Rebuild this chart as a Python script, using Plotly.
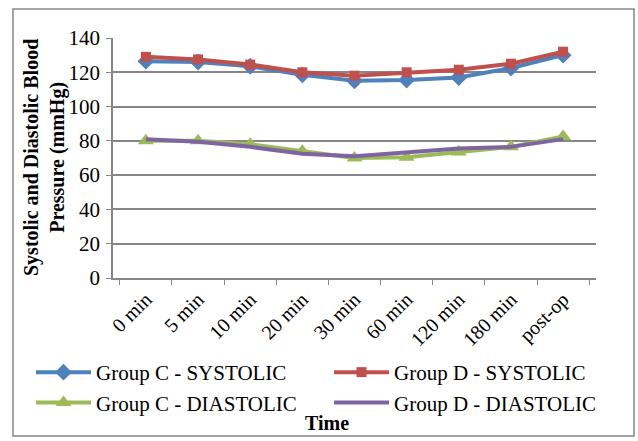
import plotly.graph_objects as go

# Time points and mean blood pressure values (mmHg)
times = ["0 min", "5 min", "10 min", "20 min", "30 min", "60 min", "120 min", "180 min", "post-op"]
c_systolic = [126.5, 126, 123.5, 118.5, 115, 115.5, 117, 122.5, 130]
d_systolic = [129, 127.5, 124.5, 120, 118, 120, 121.5, 125, 132]
c_diastolic = [80, 80, 78, 74, 70, 70.5, 73.5, 76.5, 82.5]
d_diastolic = [81, 79.5, 76.5, 72.5, 71, 73, 75.5, 76.5, 81]

y_ticks = [0, 20, 40, 60, 80, 100, 120, 140]

FONT = "Liberation Serif, Times New Roman, serif"

series = [
    ("Group C - SYSTOLIC", c_systolic, "#4F81BD", "diamond", 13),
    ("Group D - SYSTOLIC", d_systolic, "#C0504D", "square", 10),
    ("Group C - DIASTOLIC", c_diastolic, "#9BBB59", "triangle-up", 14),
    ("Group D - DIASTOLIC", d_diastolic, "#8064A2", "circle", 0.1),
]

fig = go.Figure()
for name, vals, color, symbol, msize in series:
    fig.add_trace(go.Scatter(
        x=times, y=vals, name=name, mode="lines+markers",
        line=dict(color=color, width=4),
        marker=dict(symbol=symbol, size=msize, color=color),
    ))

fig.update_layout(
    width=638, height=441,
    margin=dict(l=113, r=42, t=38, b=163, autoexpand=False),
    paper_bgcolor="white", plot_bgcolor="white",
    font=dict(family=FONT, size=20, color="black"),
    showlegend=True,
    legend=dict(
        orientation="h", x=(31 - 113) / 483, xanchor="left",
        y=(278 - 352) / 240, yanchor="top",
        entrywidth=228, entrywidthmode="pixels",
        font=dict(family=FONT, size=21, color="black"),
        itemwidth=55, tracegroupgap=0, bgcolor="rgba(0,0,0,0)",
    ),
    xaxis=dict(
        type="category", tickangle=-45, tickson="boundaries",
        ticks="outside", ticklen=5, tickcolor="#868686",
        showline=True, linecolor="#868686", linewidth=1.5,
        showgrid=False, tickfont=dict(family=FONT, size=20),
    ),
    yaxis=dict(
        range=[0, 140], tickvals=y_ticks, ticks="outside", ticklen=5,
        tickcolor="#868686", showline=True, linecolor="#868686", linewidth=1.5,
        showgrid=True, gridcolor="#868686", gridwidth=1.5, zeroline=False,
        tickfont=dict(family=FONT, size=21), ticklabelstandoff=2,
    ),
    annotations=[
        dict(text="<b>Systolic and Diastolic Blood<br>Pressure (mmHg)</b>",
             xref="paper", yref="paper", x=(44 - 113) / 483, y=(278 - 158) / 240,
             textangle=-90, showarrow=False, xanchor="center", yanchor="middle",
             font=dict(family=FONT, size=20, color="black")),
        dict(text="<b>Time</b>", xref="paper", yref="paper",
             x=(327 - 113) / 483, y=(278 - 423) / 240, showarrow=False,
             xanchor="center", yanchor="middle",
             font=dict(family=FONT, size=20, color="black")),
    ],
    shapes=[
        dict(type="rect", xref="paper", yref="paper",
             x0=(13 - 113) / 483, x1=(634 - 113) / 483,
             y0=(278 - 436) / 240, y1=(278 - 9) / 240,
             line=dict(color="#868686", width=1.5), fillcolor="rgba(0,0,0,0)"),
    ],
)

fig.write_html("out.html")
